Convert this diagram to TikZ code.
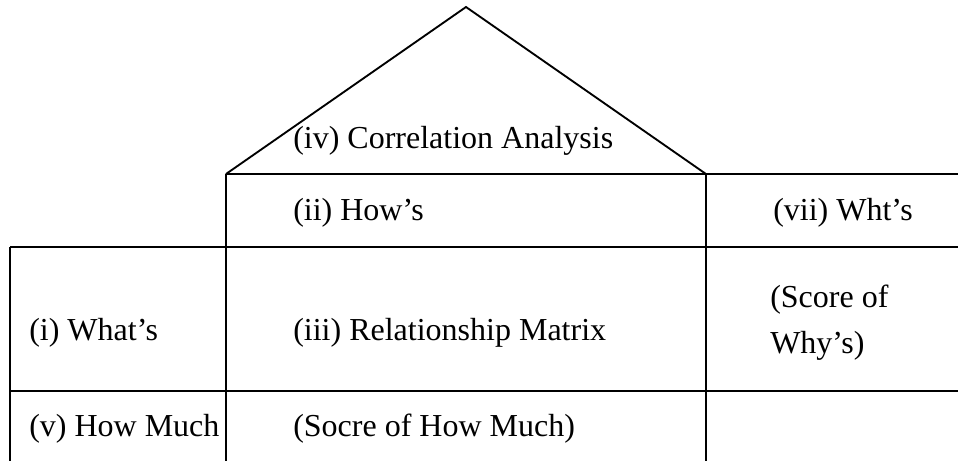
\documentclass[tikz,border=0pt]{standalone}
\usepackage{fontspec}
\setmainfont{Liberation Serif}
\begin{document}
\begin{tikzpicture}[x=0.75pt,y=-0.75pt,
  frame/.style={line width=1.4pt,line join=miter},
  label/.style={anchor=base west,inner sep=0pt,font=\fontsize{24pt}{34.5pt}\selectfont}]
\useasboundingbox (0,0) rectangle (958,461);
% key points of the house outline
\coordinate (apex) at (466,7);
\coordinate (roofL) at (226,174);
\coordinate (roofR) at (706,174);
\coordinate (topR) at (958,174);
\coordinate (midL) at (10,247);
\coordinate (midR) at (958,247);
\coordinate (lowL) at (10,391);
\coordinate (lowR) at (958,391);
\coordinate (botL) at (10,461);
\coordinate (botA) at (226,461);
\coordinate (botB) at (706,461);
% roof
\draw[frame] (roofL) -- (apex) -- (roofR);
% horizontal rules
\draw[frame] (roofL) -- (topR);
\draw[frame] (midL) -- (midR);
\draw[frame] (lowL) -- (lowR);
% vertical rules
\draw[frame] (midL) -- (botL);
\draw[frame] (roofL) -- (botA);
\draw[frame] (roofR) -- (botB);
% labels
\node[label] (corr) at (293,148) {(iv) Correlation Analysis};
\node[label] (hows) at (293,220) {(ii) How’s};
\node[label] (whts) at (773,220) {(vii) Wht’s};
\node[label] (whats) at (29,340) {(i) What’s};
\node[label] (rel) at (293,340) {(iii) Relationship Matrix};
\node[label] (score1) at (770,307) {(Score of};
\node[label] (score2) at (770,353) {Why’s)};
\node[label] (much) at (29,436) {(v) How Much};
\node[label] (socre) at (293,436) {(Socre of How Much)};
\end{tikzpicture}
\end{document}
